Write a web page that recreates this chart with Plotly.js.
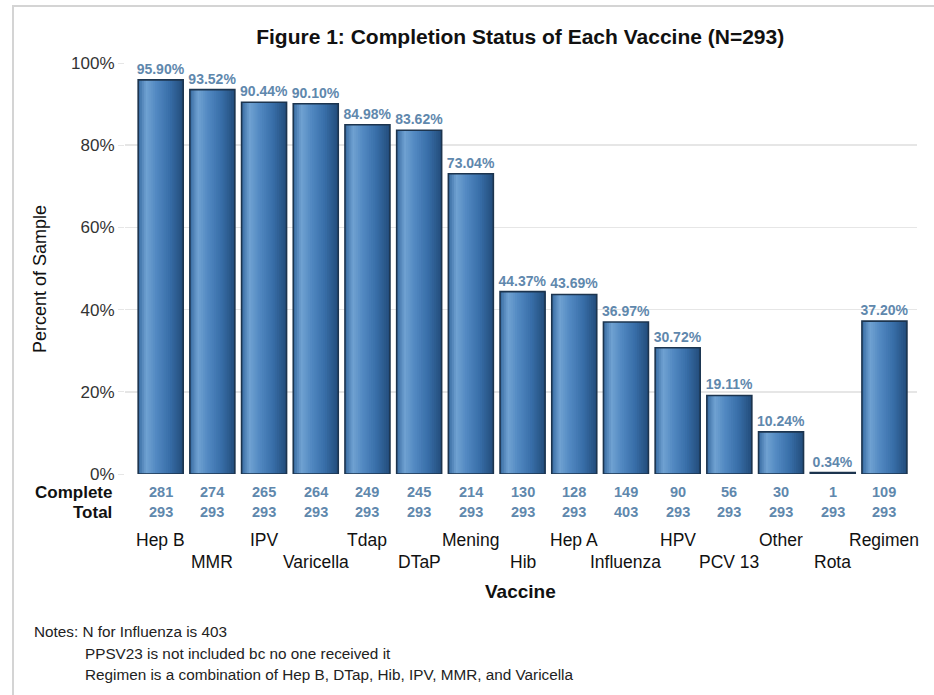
<!DOCTYPE html>
<html>
<head>
<meta charset="utf-8">
<script src="https://cdn.plot.ly/plotly-3.0.1.min.js"></script>
<style>
  html, body { margin: 0; padding: 0; background: #ffffff; }
  #wrap { position: relative; width: 934px; height: 695px; overflow: hidden; }
  #chart { position: absolute; left: 0; top: 0; width: 934px; height: 695px; }
  #frame { position: absolute; left: 12px; top: 5px; width: 940px; height: 700px;
           border-left: 2px solid #d4d4d4; border-top: 2px solid #d4d4d4; pointer-events: none; }
</style>
</head>
<body>
<div id="wrap">
  <div id="chart"></div>
  <div id="frame"></div>
</div>
<script>
// ---- data ----
const vaccines = ["Hep B", "MMR", "IPV", "Varicella", "Tdap", "DTaP", "Mening", "Hib",
                  "Hep A", "Influenza", "HPV", "PCV 13", "Other", "Rota", "Regimen"];
const percentComplete = [95.90, 93.52, 90.44, 90.10, 84.98, 83.62, 73.04, 44.37,
                         43.69, 36.97, 30.72, 19.11, 10.24, 0.34, 37.20];
const completeCounts = [281, 274, 265, 264, 249, 245, 214, 130, 128, 149, 90, 56, 30, 1, 109];
const totalCounts = [293, 293, 293, 293, 293, 293, 293, 293, 293, 403, 293, 293, 293, 293, 293];
const yTicks = [0, 20, 40, 60, 80, 100];
const notes = ["Notes: N for Influenza is 403",
               "PPSV23 is not included bc no one received it",
               "Regimen is a combination of Hep B, DTap, Hib, IPV, MMR, and Varicella"];

// ---- styling helpers ----
const FONT = "Liberation Sans, Arial, sans-serif";
const BAR_W = 0.87;
const NSTRIPS = 24;
const stops = [
  [0.00, [54, 106, 160]],
  [0.18, [112, 162, 210]],
  [0.40, [82, 137, 194]],
  [0.70, [56, 110, 168]],
  [1.00, [34, 76, 122]]
];
function colorAt(t) {
  for (let k = 0; k < stops.length - 1; k++) {
    const a = stops[k], b = stops[k + 1];
    if (t >= a[0] && t <= b[0]) {
      const f = (t - a[0]) / (b[0] - a[0]);
      const c = a[1].map((v, j) => Math.round(v + (b[1][j] - v) * f));
      return `rgb(${c[0]},${c[1]},${c[2]})`;
    }
  }
  return "rgb(34,76,122)";
}

const traces = [];
for (let s = 0; s < NSTRIPS; s++) {
  const w = BAR_W / NSTRIPS;
  // each strip runs from its left edge to the bar's right edge; later strips paint over earlier ones
  traces.push({
    type: "bar",
    x: vaccines,
    y: percentComplete,
    width: BAR_W - s * w,
    offset: -BAR_W / 2 + s * w,
    marker: { color: colorAt((s + 0.5) / NSTRIPS), line: { width: 0 } },
    hoverinfo: "skip",
    showlegend: false
  });
}
// outline + value labels
traces.push({
  type: "bar",
  x: vaccines,
  y: percentComplete,
  width: BAR_W,
  marker: { color: "rgba(0,0,0,0)", line: { color: "#1c344e", width: 1.6 } },
  text: percentComplete.map(v => v.toFixed(2) + "%"),
  textposition: "outside",
  constraintext: "none",
  cliponaxis: false,
  textfont: { family: FONT, size: 14, color: "#5f88ad", weight: "bold" },
  showlegend: false
});

const labelFont = { family: FONT, size: 14.5, color: "#5f88ad", weight: "bold" };
const annotations = [];
vaccines.forEach((v, i) => {
  annotations.push({ xref: "x", yref: "paper", x: v, y: -0.044, text: "<b>" + completeCounts[i] + "</b>",
    showarrow: false, font: labelFont, yanchor: "middle" });
  annotations.push({ xref: "x", yref: "paper", x: v, y: -0.093, text: "<b>" + totalCounts[i] + "</b>",
    showarrow: false, font: labelFont, yanchor: "middle" });
  annotations.push({ xref: "x", yref: "paper", x: v, y: (i % 2 === 0) ? -0.161 : -0.214, text: v,
    showarrow: false, yanchor: "middle",
    font: { family: FONT, size: 17.5, color: "#111" } });
});
annotations.push({ xref: "paper", yref: "paper", x: -0.014, y: -0.044, text: "<b>Complete</b>",
  showarrow: false, xanchor: "right", yanchor: "middle",
  font: { family: FONT, size: 17, color: "#111" } });
annotations.push({ xref: "paper", yref: "paper", x: -0.014, y: -0.093, text: "<b>Total</b>",
  showarrow: false, xanchor: "right", yanchor: "middle",
  font: { family: FONT, size: 17, color: "#111" } });
annotations.push({ xref: "paper", yref: "paper", x: 0.499, y: -0.287, text: "<b>Vaccine</b>",
  showarrow: false, xanchor: "center", yanchor: "middle",
  font: { family: FONT, size: 19, color: "#111" } });
annotations.push({ xref: "paper", yref: "paper", x: -0.107, y: 0.475, text: "Percent of Sample",
  textangle: -90, showarrow: false, xanchor: "center", yanchor: "middle",
  font: { family: FONT, size: 18, color: "#111" } });
const noteX = [-0.1175, -0.0525, -0.0525];
const noteY = [-0.382, -0.436, -0.489];
notes.forEach((n, i) => {
  annotations.push({ xref: "paper", yref: "paper", x: noteX[i], y: noteY[i], text: n,
    showarrow: false, xanchor: "left", yanchor: "middle",
    font: { family: FONT, size: 15.3, color: "#222" } });
});

const layout = {
  width: 934, height: 695,
  margin: { l: 125, r: 17, t: 63, b: 221 },
  paper_bgcolor: "#ffffff", plot_bgcolor: "#ffffff",
  barmode: "overlay",
  title: { text: "<b>Figure 1: Completion Status of Each Vaccine (N=293)</b>",
    xref: "paper", x: 0.499, xanchor: "center", yref: "container", y: 0.947, yanchor: "middle",
    font: { family: FONT, size: 21, color: "#111" } },
  xaxis: { type: "category", range: [-0.69, 14.63], showticklabels: false, ticks: "",
    showgrid: false, zeroline: false, showline: false, fixedrange: true },
  yaxis: { range: [0, 100], tickvals: yTicks, ticktext: yTicks.map(v => v + "%"),
    showgrid: true, gridcolor: "#e6e6e6", gridwidth: 1.5, zeroline: false, showline: false,
    ticks: "outside", ticklen: 6, tickcolor: "#e6e6e6",
    tickfont: { family: FONT, size: 17, color: "#333" } },
  annotations: annotations,
  showlegend: false
};

Plotly.newPlot("chart", traces, layout, { displayModeBar: false, staticPlot: true });
</script>
</body>
</html>
